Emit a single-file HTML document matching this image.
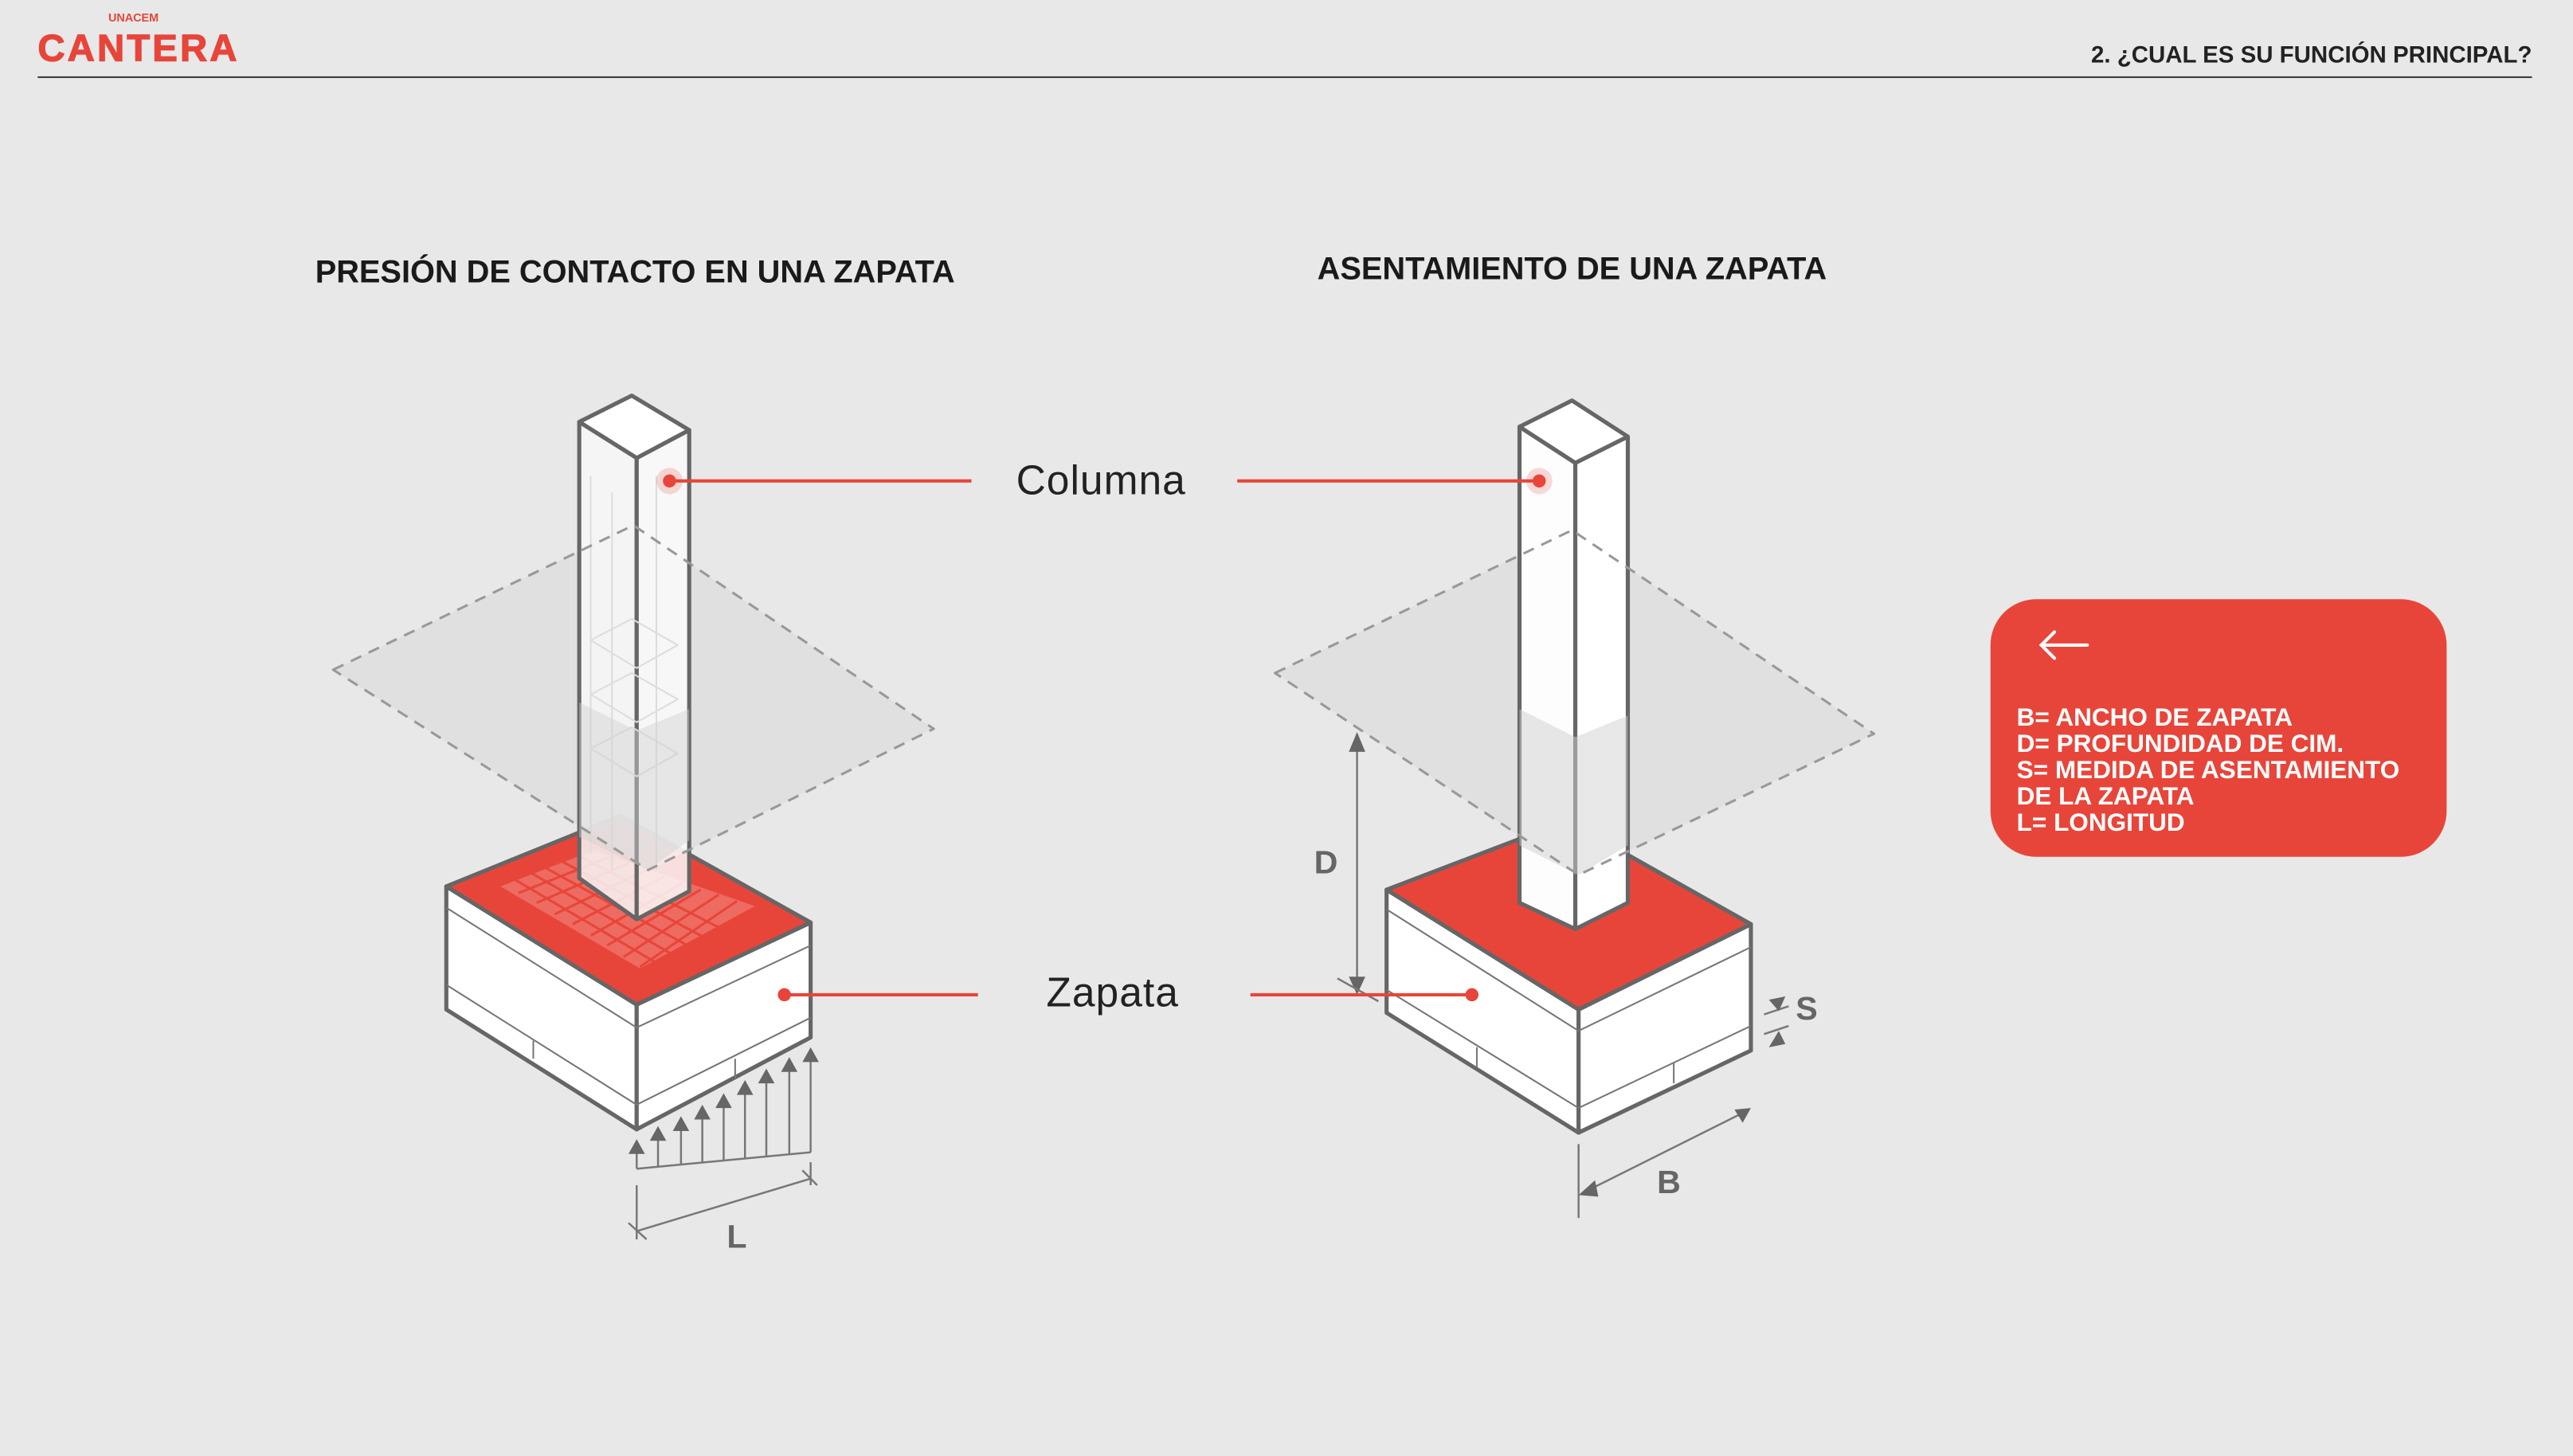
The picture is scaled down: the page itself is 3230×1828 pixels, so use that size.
<!DOCTYPE html>
<html><head><meta charset="utf-8"><style>
html,body{margin:0;padding:0;background:#e8e8e8}
svg{display:block}
text{font-family:"Liberation Sans",sans-serif}
</style></head><body>
<svg width="3230" height="1828" viewBox="0 0 1568 887" preserveAspectRatio="none" xmlns="http://www.w3.org/2000/svg">
<rect width="1568" height="887" fill="#e8e8e8"/>
<!-- header -->
<text x="66" y="13" font-size="7" font-weight="bold" fill="#e8453a">UNACEM</text>
<text x="23" y="37" font-size="23" font-weight="bold" fill="#e8453a" letter-spacing="1.5" stroke="#e8453a" stroke-width="0.6">CANTERA</text>
<line x1="23" y1="47" x2="1543" y2="47" stroke="#333" stroke-width="1"/>
<text x="1543" y="38" font-size="14.3" font-weight="bold" fill="#222" text-anchor="end">2. ¿CUAL ES SU FUNCIÓN PRINCIPAL?</text>
<text x="387" y="172" font-size="19.3" font-weight="bold" fill="#1a1a1a" text-anchor="middle">PRESIÓN DE CONTACTO EN UNA ZAPATA</text>
<text x="958" y="170" font-size="19.3" font-weight="bold" fill="#1a1a1a" text-anchor="middle">ASENTAMIENTO DE UNA ZAPATA</text>

<g stroke-linejoin="round">
<!-- LEFT footing -->
<polygon points="272,540 388,612 388,688 272,615" fill="#fff" stroke="#666" stroke-width="2.5"/>
<polygon points="388,612 494,562 494,632 388,688" fill="#fff" stroke="#666" stroke-width="2.5"/>
<polygon points="272,540 378,497 494,562 388,612" fill="#e8453a" stroke="#666" stroke-width="2.5"/>
<polygon points="305,540 362,518 460,552 390,590" fill="#ee6b61"/>
<g stroke="#e8453a" stroke-width="1.5">
<line x1="314" y1="536" x2="399" y2="586"/><line x1="324" y1="532" x2="409" y2="581"/><line x1="333" y1="529" x2="419" y2="576"/><line x1="343" y1="525" x2="429" y2="571"/><line x1="352" y1="521" x2="440" y2="566"/>
<line x1="316" y1="544" x2="372" y2="522"/><line x1="327" y1="550" x2="383" y2="526"/><line x1="338" y1="557" x2="394" y2="530"/><line x1="349" y1="563" x2="405" y2="534"/><line x1="360" y1="570" x2="416" y2="538"/><line x1="370" y1="576" x2="427" y2="542"/><line x1="380" y1="583" x2="438" y2="545"/><line x1="390" y1="589" x2="449" y2="549"/>
</g>
<g stroke="#777" stroke-width="1" fill="none">
<polyline points="272,553 388,626 494,576"/>
<polyline points="272,600 388,673 494,620"/>
<line x1="325" y1="634" x2="325" y2="645"/><line x1="448" y1="645" x2="448" y2="657"/>
</g>
<!-- LEFT plane fill (behind column) -->
<polygon points="203,408 386,320 569,444 395,530" fill="#d8d8d8" fill-opacity="0.45"/>
<!-- LEFT column -->
<polygon points="353,257 388,279 388,560 353,535" fill="#f7f7f7" fill-opacity="0.85" stroke="#666" stroke-width="2.5"/>
<polygon points="388,279 420,262 420,543 388,560" fill="#fafafa" fill-opacity="0.85" stroke="#666" stroke-width="2.5"/>
<polygon points="353,257 385,241 420,262 388,279" fill="#fff" stroke="#666" stroke-width="2.5"/>
<g stroke="#ddd" stroke-width="1" fill="none">
<line x1="360" y1="290" x2="360" y2="520"/><line x1="373" y1="300" x2="373" y2="530"/><line x1="400" y1="290" x2="400" y2="530"/>
<polygon points="360,390 385,377 413,393 388,407"/><polygon points="360,423 385,410 413,426 388,440"/><polygon points="360,456 385,443 413,459 388,473"/>
</g>
<polygon points="353,428 388,445 420,432 420,512 395,530 353,510" fill="#d0d0d0" fill-opacity="0.45"/>
<polygon points="203,408 386,320 569,444 395,530" fill="none" stroke="#999" stroke-width="1.5" stroke-dasharray="7,5"/>
<!-- arrows -->
<g stroke="#777" stroke-width="1.2" fill="#666">
<line x1="388" y1="712" x2="494" y2="702"/>
<line x1="388" y1="712" x2="388" y2="700"/><line x1="401" y1="711" x2="401" y2="692"/><line x1="415" y1="709" x2="415" y2="686"/><line x1="428" y1="708" x2="428" y2="679"/><line x1="441" y1="707" x2="441" y2="672"/><line x1="454" y1="706" x2="454" y2="664"/><line x1="467" y1="704" x2="467" y2="657"/><line x1="481" y1="703" x2="481" y2="650"/><line x1="494" y1="702" x2="494" y2="644"/>
<polygon points="383,703 393,703 388,694" stroke="none"/><polygon points="396,695 406,695 401,686" stroke="none"/><polygon points="410,689 420,689 415,680" stroke="none"/><polygon points="423,682 433,682 428,673" stroke="none"/><polygon points="436,675 446,675 441,666" stroke="none"/><polygon points="449,667 459,667 454,658" stroke="none"/><polygon points="462,660 472,660 467,651" stroke="none"/><polygon points="476,653 486,653 481,644" stroke="none"/><polygon points="489,647 499,647 494,638" stroke="none"/>
<line x1="388" y1="722" x2="388" y2="755" fill="none"/><line x1="494" y1="708" x2="494" y2="722"/>
<line x1="388" y1="750" x2="494" y2="718"/>
<line x1="383" y1="745" x2="394" y2="755"/><line x1="489" y1="713" x2="498" y2="722"/>
</g>
<text x="449" y="760" font-size="20" font-weight="bold" fill="#666" text-anchor="middle">L</text>

<!-- RIGHT footing -->
<polygon points="845,542 962,615 962,690 845,617" fill="#fff" stroke="#666" stroke-width="2.5"/>
<polygon points="962,615 1067,563 1067,640 962,690" fill="#fff" stroke="#666" stroke-width="2.5"/>
<polygon points="845,542 955,500 1067,563 962,615" fill="#e8453a" stroke="#666" stroke-width="2.5"/>
<g stroke="#777" stroke-width="1" fill="none">
<polyline points="845,554 962,628 1067,577"/>
<polyline points="845,603 962,675 1067,625"/>
<line x1="900" y1="638" x2="900" y2="650"/><line x1="1020" y1="647" x2="1020" y2="660"/>
</g>
<polygon points="777,410 958,323 1142,447 962,533" fill="#d8d8d8" fill-opacity="0.45"/>
<!-- RIGHT column -->
<polygon points="926,260 960,282 960,566 926,550" fill="#fdfdfd" stroke="#666" stroke-width="2.5"/>
<polygon points="960,282 992,266 992,550 960,566" fill="#fff" stroke="#666" stroke-width="2.5"/>
<polygon points="926,260 958,244 992,266 960,282" fill="#fff" stroke="#666" stroke-width="2.5"/>
<polygon points="926,432 960,449 992,436 992,515 962,533 926,515" fill="#d0d0d0" fill-opacity="0.5"/>
<polygon points="777,410 958,323 1142,447 962,533" fill="none" stroke="#999" stroke-width="1.5" stroke-dasharray="7,5"/>
<g stroke="#777" stroke-width="1.2" fill="#666">
<line x1="827" y1="450" x2="827" y2="602"/>
<polygon points="822,458 832,458 827,446" stroke="none"/><polygon points="822,595 832,595 827,606" stroke="none"/>
<line x1="815" y1="596" x2="840" y2="610"/>
<line x1="1075" y1="618" x2="1090" y2="613"/><line x1="1075" y1="630" x2="1090" y2="625"/>
<polygon points="1078,609 1088,607 1084,616" stroke="none"/><polygon points="1078,638 1088,636 1084,628" stroke="none"/>
<line x1="962" y1="697" x2="962" y2="742"/>
<line x1="964" y1="727" x2="1064" y2="677"/>
<polygon points="962,728 972,719 974,729" stroke="none"/><polygon points="1067,675 1057,676 1062,684" stroke="none"/>
</g>
<text x="808" y="532" font-size="20" font-weight="bold" fill="#666" text-anchor="middle">D</text>
<text x="1101" y="621" font-size="20" font-weight="bold" fill="#666" text-anchor="middle">S</text>
<text x="1017" y="727" font-size="20" font-weight="bold" fill="#666" text-anchor="middle">B</text>
</g>

<!-- labels & red leaders -->
<g stroke="#e8453a" stroke-width="2">
<line x1="408" y1="293" x2="592" y2="293"/><line x1="754" y1="293" x2="938" y2="293"/>
<line x1="478" y1="606" x2="596" y2="606"/><line x1="762" y1="606" x2="897" y2="606"/>
</g>
<circle cx="408" cy="293" r="8" fill="#e8453a" opacity="0.2"/><circle cx="938" cy="293" r="8" fill="#e8453a" opacity="0.2"/>
<g fill="#e8453a"><circle cx="408" cy="293" r="4"/><circle cx="938" cy="293" r="4"/><circle cx="478" cy="606" r="4"/><circle cx="897" cy="606" r="4"/></g>
<text x="671" y="301" font-size="25" fill="#222" text-anchor="middle" letter-spacing="0.5">Columna</text>
<text x="678" y="613" font-size="25" fill="#222" text-anchor="middle" letter-spacing="0.5">Zapata</text>

<!-- legend box -->
<rect x="1213" y="365" width="278" height="157" rx="28" fill="#e8453a"/>
<g stroke="#fff" stroke-width="2" fill="none" stroke-linecap="round"><line x1="1244" y1="393" x2="1272" y2="393"/><polyline points="1252,385 1244,393 1252,401"/></g>
<g fill="#fff" font-size="15.3" font-weight="bold">
<text x="1229" y="442">B= ANCHO DE ZAPATA</text>
<text x="1229" y="458">D= PROFUNDIDAD DE CIM.</text>
<text x="1229" y="474">S= MEDIDA DE ASENTAMIENTO</text>
<text x="1229" y="490">DE LA ZAPATA</text>
<text x="1229" y="506">L= LONGITUD</text>
</g>
</svg>
</body></html>
